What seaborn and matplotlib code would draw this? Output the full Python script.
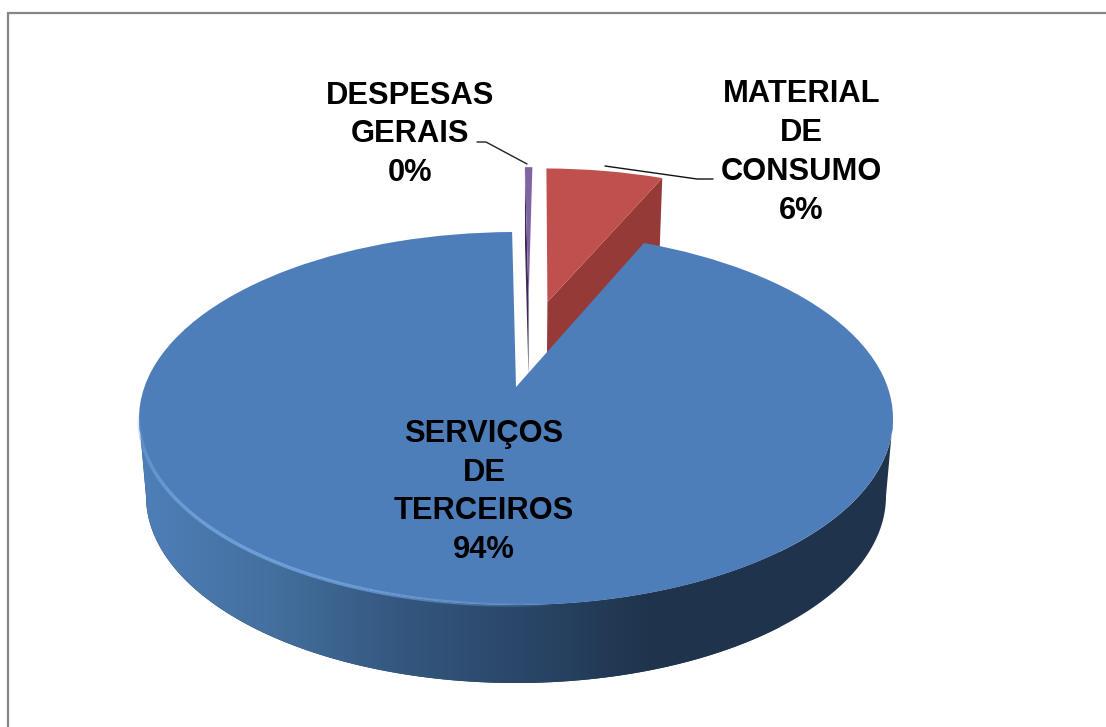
import numpy as np
import matplotlib
matplotlib.use('Agg')
import matplotlib.pyplot as plt
from matplotlib.collections import LineCollection
from matplotlib.patches import Polygon
from matplotlib.transforms import Affine2D, Transform
import seaborn as sns

# --- Data ---
slice_names = ['DESPESAS\nGERAIS', 'MATERIAL\nDE\nCONSUMO', 'SERVIÇOS\nDE\nTERCEIROS']
slice_values = [0.4, 6.3, 93.3]
slice_labels = ['0%', '6%', '94%']

# --- Style ---
top_colors = ['#8064A2', '#C0504D', '#4D7EBA']
wall_colors = ['#3A2A55', '#963A37', '#1F344C']
side_colors = ['#4E7FB8', '#44709F', '#355880', '#2A4668', '#1F344C', '#1F344C']
explode = [0.5, 0.5, 0.0]
nudges = [(12.5, -3), (-4.5, -3), (0, 0)]

sns.set_theme(style='white')
plt.rcParams['font.family'] = ['Liberation Sans', 'DejaVu Sans']


# --- Pie plane to pixels, with the far side foreshortened ---
class Perspective(Transform):
    input_dims = 2
    output_dims = 2
    is_separable = False

    def __init__(self, cx, cy, a, b, k=0.1689):
        super().__init__()
        self.cx, self.cy, self.a, self.b, self.k = cx, cy, a, b, k

    def transform_non_affine(self, values):
        values = np.asarray(values, dtype=float)
        u, v = values[:, 0], values[:, 1]
        w = 1 + self.k * v
        x = self.cx + self.a * np.sqrt(1 - self.k ** 2) * u / w
        y = self.cy - self.b * (v + self.k) / w
        return np.column_stack([x, y])


top_plane = Perspective(516, 418.5, 377, 186.5)
bottom_plane = Perspective(516, 496, 370, 187)


def unit_arc(deg1, deg2, n=200):
    t = np.radians(np.linspace(deg1, deg2, n))
    return np.column_stack([np.cos(t), np.sin(t)])


fig, ax = plt.subplots(figsize=(11.06, 7.27), dpi=100)
ax.set_position([0, 0, 1, 1])

# --- Pie ---
wedges, _ = ax.pie(slice_values, explode=explode, colors=top_colors, startangle=90.7,
                   counterclock=False, radius=1)

for i, wedge in enumerate(wedges):
    shift = Affine2D().translate(*nudges[i])
    wedge.set_transform(top_plane + shift + ax.transData)
    wedge.set_linewidth(0)
    wedge.set_zorder(2)

    # small slices show one cut face below the top
    if i < 2:
        c = np.array(wedge.center)
        # material shows its clockwise edge, despesas its anticlockwise edge
        deg = wedge.theta1 if i == 1 else wedge.theta2
        edge = np.array([[c[0], c[1]],
                         [c[0] + np.cos(np.radians(deg)), c[1] + np.sin(np.radians(deg))]])
        wall = np.vstack([top_plane.transform(edge), bottom_plane.transform(edge)[::-1]])
        wall = shift.transform(wall)
        ax.add_patch(Polygon(wall, closed=True, fc=wall_colors[i], ec='none', zorder=1))

wedges[2].set_zorder(4)

# --- Front wall of the big slice ---
front = unit_arc(180 + 9.7, 360 - 9.7)
side_outline = np.vstack([top_plane.transform(front), bottom_plane.transform(front)[::-1]])
side_clip = Polygon(side_outline, closed=True, transform=ax.transData, fc='none', ec='none')
ax.add_patch(side_clip)
side_cmap = sns.blend_palette(side_colors, n_colors=256, as_cmap=True)
side = ax.imshow(np.linspace(0, 1, 256)[None, :], cmap=side_cmap, aspect='auto',
                 extent=[140, 780, 700, 400], zorder=3)
side.set_clip_path(side_clip)
# the dark colour carries on to the right end of the wall
ax.add_patch(Polygon(side_outline, closed=True, fc=side_colors[-1], ec='none', zorder=2.5))

# --- Light rim on the front left edge ---
rim = top_plane.transform(unit_arc(188, 275))
segs = np.stack([rim[:-1], rim[1:]], axis=1)
fade = np.sin(np.linspace(0, np.pi, len(segs))) ** 0.7
rim_rgba = [(0.46, 0.65, 0.88, 0.85 * f) for f in fade]
ax.add_collection(LineCollection(segs, colors=rim_rgba, linewidths=2.6, zorder=5))

# --- Leader lines ---
ax.plot([477, 486, 527], [142, 142, 164], color='#222222', lw=1, zorder=6)
ax.plot([605, 697, 713], [166, 179, 179], color='#111111', lw=1, zorder=6)

# --- Labels ---
label_spots = [(410, 134.5), (801.5, 152.5), (484, 492)]
for name, label, (x, y) in zip(slice_names, slice_labels, label_spots):
    ax.text(x, y, f'{name}\n{label}', ha='center', va='center', fontsize=22.2,
            fontweight='bold', color='black', linespacing=1.39, zorder=7)

# --- Chart frame, left and top only ---
ax.plot([7.5, 7.5], [727, 12.5], color='#868686', lw=1.6, zorder=6)
ax.plot([7.5, 1106], [12.5, 12.5], color='#868686', lw=1.6, zorder=6)

ax.set_aspect('auto')
ax.set_xlim(0, 1106)
ax.set_ylim(727, 0)
ax.axis('off')
fig.patch.set_facecolor('white')

fig.savefig('out.png', dpi=100)
